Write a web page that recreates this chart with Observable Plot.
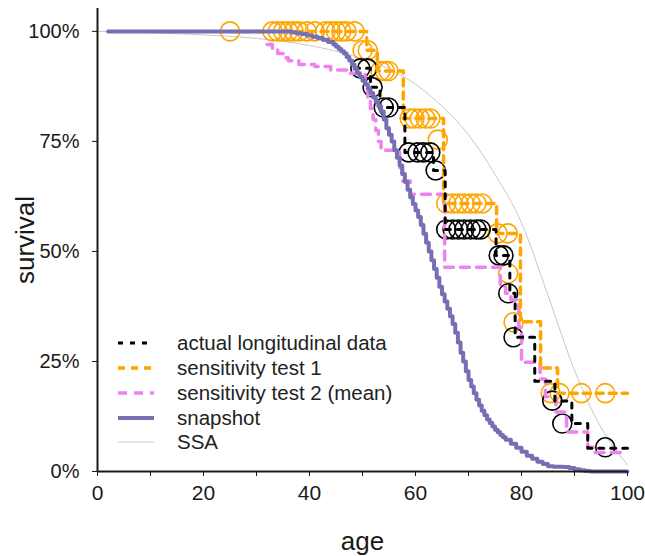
<!DOCTYPE html>
<html><head><meta charset="utf-8">
<script src="https://cdn.jsdelivr.net/npm/d3@7"></script>
<script src="https://cdn.jsdelivr.net/npm/@observablehq/plot@0.6"></script>
<style>
body{margin:0;background:#fff;font-family:"Liberation Sans",Arial,sans-serif}
#wrap{position:relative;width:645px;height:556px}
#legend{position:absolute;left:118px;top:331px;font-size:20.5px;color:#222}
.row{display:flex;align-items:center;height:24.75px;white-space:nowrap}
.row svg{width:36px;height:10px;margin-right:23px;flex:none}
g[aria-label="x-axis label"], g[aria-label="y-axis label"]{font-size:26px}
</style></head>
<body><div id="wrap"></div>
<script>
// ---- data ----
const xTicks = [0,10,20,30,40,50,60,70,80,90,100];
const xTickLabels = ["0","","20","","40","","60","","80","","100"];
const yTicks = [0,25,50,75,100];
const yTickLabels = ["0%","25%","50%","75%","100%"];

const ssaAge  = [0,10,20,30,40,45,50,55,60,65,70,75,80,85,90,95,100];
const ssaSurv = [100,99.7,99.2,98.4,96.8,95.5,93.8,91.5,88,83,76.5,67.5,56.5,40,23,10,1.5];

const snapAge  = [2,36.5,37.5,38.5,39.5,40.5,41.5,42.5,43.5,44.5,45,45.5,46,46.5,47,47.5,48,48.5,49,49.5,50,50.5,51,51.5,52,52.5,53,53.5,54,54.5,55,55.5,56,56.5,57,57.5,58,58.5,59,59.5,60,60.5,61,61.5,62,62.5,63,63.5,64,64.5,65,65.5,66,66.5,67,67.5,68,68.5,69,69.5,70,70.5,71,71.5,72,72.5,73,73.5,74,74.5,75,75.5,76,76.5,77,78,79,80,81,82,83,84,85,86,88,89,90,91,92,93,100];
const snapSurv = [100,99.8,99.6,99.4,99.1,98.8,98.5,98.1,97.6,97,96.5,96,95.5,95,94.2,93.4,92.5,91.5,90.5,89.6,88.8,88,87,86,85,84,83,81.8,80,78,76.5,75,73,71.3,69.5,67.6,65.8,64,62.3,60.8,59.3,57.8,56,54,52,50,48,46,44,42,40.3,38.6,37,35.3,33.5,31.5,29.3,27,25,22.8,20.8,19.3,17.8,16.3,15,13.8,12.8,11.8,11,10.2,9.5,8.9,8.3,7.8,7.2,6.3,5.4,4.5,3.6,2.9,2.2,1.7,1.2,1.1,1.0,0.8,0.5,0.3,0.1,0,0];

const actualAge  = [48.5,51.5,53.3,58,63.4,65.6,75.2,77.8,78.8,82.5,86.3,89.5,92.5,100];
const actualSurv = [91.6,87.3,82.7,72.5,68.4,55,49.1,40.5,30.5,20.5,16,10.9,5.3,5.3];
const actualCensAge  = [49.6,50.9,51.9,54,54.9,58.7,60.4,61.5,62.8,63.8,65.8,67,68.1,69.2,70.4,71.5,72.3,75.7,76.6,77.5,78.5,85.8,87.7,95.8];
const actualCensSurv = [91.6,91.6,87.3,82.7,82.7,72.5,72.5,72.5,72.5,68.4,55,55,55,55,55,55,55,49.1,49.1,40.5,30.5,16.1,10.9,5.5];

const sens1Age  = [25,50.8,52.8,57.7,65.3,75.3,79.8,83.6,86.8,100];
const sens1Surv = [100,95.7,91,80.2,60.9,54.1,34,23.5,17.8,17.8];
const sens1CensAge  = [25,33,34,35,36,37,38,39.5,41,43,44,45,46,47,48.5,50,51,53.4,54.2,54.9,58.9,59.8,60.8,61.9,62.8,64.2,65.8,67,68.1,69.2,70.4,71.5,72.6,75.5,77.4,77.5,78.5,85.5,87.2,91.3,95.8];
const sens1CensSurv = [100,100,100,100,100,100,100,100,100,100,100,100,100,100,100,95.7,95.7,91,91,91,80.2,80.2,80.2,80.2,80.2,75.4,60.9,60.9,60.9,60.9,60.9,60.9,60.9,54.1,54.1,45,33.9,17.8,17.8,17.8,17.8];

const sens2Age  = [32,33,34,35,36,38,41,44,47,50.5,51,51.5,52,52.5,53,53.5,57,57.5,59,65.5,76,77,78,79.5,80,83.5,84.5,86.5,88.5,92.5,93.5,98.7];
const sens2Surv = [97,96,95,94,93.3,92.5,92,91.2,90.5,88,85,82.5,80,77.5,75,73,69,66,63,46.4,42,40.5,39,32.7,24.8,21,17,13.5,9,5.5,4.3,4.3];

const seriesNames = ["actual longitudinal data","sensitivity test 1","sensitivity test 2 (mean)","snapshot","SSA"];
const seriesColors = ["#000000","#ffa500","#ee82ee","#7570b3","#c8c8c8"];

// ---- build tables ----
const zip = (a, b) => a.map((x, i) => ({age: x, s: b[i]}));
const ssa = zip(ssaAge, ssaSurv);
const snap = zip(snapAge, snapSurv);
const actual = zip(actualAge, actualSurv);
const actualCens = zip(actualCensAge, actualCensSurv);
const sens1 = zip(sens1Age, sens1Surv);
const sens1Cens = zip(sens1CensAge, sens1CensSurv);
const sens2 = zip(sens2Age, sens2Surv);

const styles = [
  {stroke: seriesColors[0], strokeWidth: 3, strokeDasharray: "5,7"},
  {stroke: seriesColors[1], strokeWidth: 3.5, strokeDasharray: "7,6"},
  {stroke: seriesColors[2], strokeWidth: 3.5, strokeDasharray: "9,7"},
  {stroke: seriesColors[3], strokeWidth: 4},
  {stroke: seriesColors[4], strokeWidth: 1}
];

const chart = Plot.plot({
  width: 645, height: 556,
  marginLeft: 97, marginRight: 18, marginTop: 8, marginBottom: 85,
  x: {domain: [0, 100]},
  y: {domain: [0, 105.2]},
  style: {fontFamily: '"Liberation Sans", Arial, sans-serif', color: "#1a1a1a", background: "white"},
  marks: [
    Plot.line(ssa, {x: "age", y: "s", curve: "monotone-x", ...styles[4]}),
    Plot.dot(sens1Cens, {x: "age", y: "s", r: 9.5, stroke: seriesColors[1], strokeWidth: 1.6, fill: "none"}),
    Plot.dot(actualCens, {x: "age", y: "s", r: 9.5, stroke: seriesColors[0], strokeWidth: 1.6, fill: "none"}),
    Plot.line(sens2, {x: "age", y: "s", curve: "step-after", ...styles[2]}),
    Plot.line(sens1, {x: "age", y: "s", curve: "step-after", ...styles[1]}),
    Plot.line(actual, {x: "age", y: "s", curve: "step-after", ...styles[0]}),
    Plot.line(snap, {x: "age", y: "s", curve: "step-after", ...styles[3]}),
    Plot.axisX({ticks: xTicks, tickFormat: d => xTickLabels[xTicks.indexOf(d)], tickSize: 5, tickPadding: 9, fontSize: 21,
      label: "age", labelAnchor: "center", labelArrow: "none", labelOffset: 78}),
    Plot.axisY({ticks: yTicks, tickFormat: d => yTickLabels[yTicks.indexOf(d)], tickSize: 5, tickPadding: 13, fontSize: 20,
      label: "survival", labelAnchor: "center", labelArrow: "none", labelOffset: 82}),
    Plot.ruleX([0], {stroke: "#1a1a1a", strokeWidth: 2}),
    Plot.ruleY([0], {stroke: "#1a1a1a", strokeWidth: 2})
  ]
});
const wrap = document.getElementById("wrap");
wrap.appendChild(chart);

// legend overlay
const legend = document.createElement("div");
legend.id = "legend";
seriesNames.forEach((name, i) => {
  const row = document.createElement("div");
  row.className = "row";
  const st = styles[i];
  row.innerHTML = `<svg viewBox="0 0 36 10"><line x1="0" x2="36" y1="5" y2="5" stroke="${st.stroke}" stroke-width="${st.strokeWidth}" ${st.strokeDasharray ? `stroke-dasharray="${st.strokeDasharray}"` : ""}/></svg><span>${name}</span>`;
  legend.appendChild(row);
});
wrap.appendChild(legend);
</script></body></html>
